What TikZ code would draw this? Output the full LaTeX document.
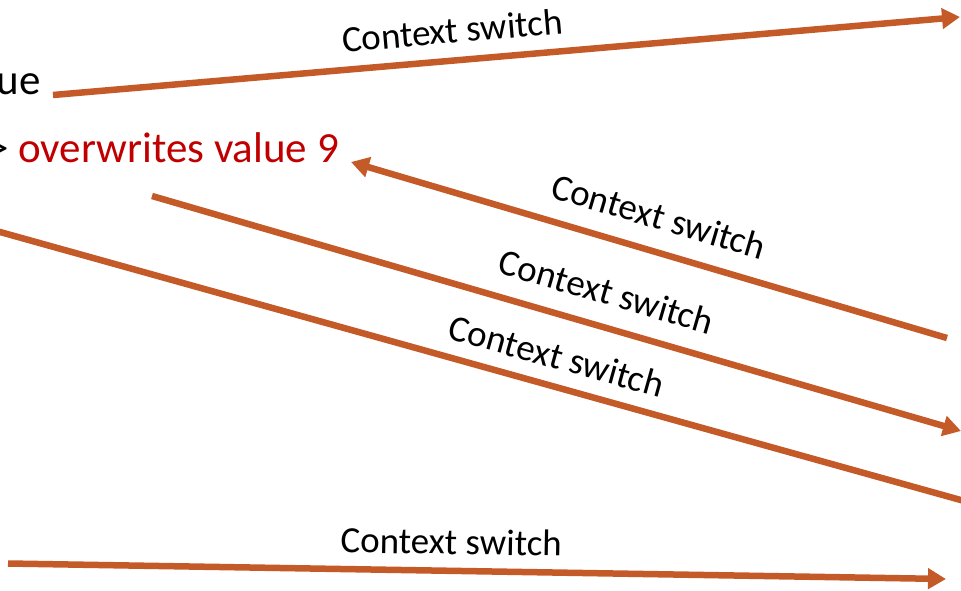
\documentclass[tikz,border=0pt]{standalone}
\usepackage{fontspec}
\setmainfont{Carlito}
\usetikzlibrary{arrows.meta}
\definecolor{switchline}{RGB}{195,90,40}
\definecolor{alertred}{RGB}{192,0,0}
\begin{document}
\begin{tikzpicture}[x=1pt,y=-1pt,
  ctx/.style={line width=6.5pt, draw=switchline},
  fwd/.style={-{Triangle[length=18pt,width=20pt]}},
  back/.style={{Triangle[length=18pt,width=20pt]}-},
  lbl/.style={sloped, above=#1, inner sep=0pt, text=black,
    font=\fontsize{37}{40}\selectfont},
  lbl/.default=15pt,
  side/.style={inner sep=0pt, font=\fontsize{43}{48}\selectfont}]
\useasboundingbox (0,0) rectangle (961,591);

% text at the left edge
\node[side, anchor=base east] (val) at (41,95) {ue};
\node[side, anchor=base east, text=alertred] (ovr) at (339,162.5)
  {{\color{black}>} overwrites value 9};

% end points of the switch arrows
\coordinate (s1) at (53,95);
\coordinate (t1) at (960,17);
\coordinate (t2) at (351,162);
\coordinate (e2) at (947,338);
\coordinate (s3) at (152,196);
\coordinate (t3) at (961,431);
\coordinate (s4) at (-10,229.2);
\coordinate (e4) at (975,504);
\coordinate (s5) at (8,563.5);
\coordinate (t5) at (946,579);

\draw[ctx, fwd] (s1) -- node[lbl=14pt, pos=0.443] (l1) {Context switch} (t1);
\draw[ctx, back] (t2) -- node[lbl=19pt, pos=0.50] (l2) {Context switch} (e2);
\draw[ctx, fwd] (s3) -- node[lbl=19pt, pos=0.55] (l3) {Context switch} (t3);
\draw[ctx] (s4) -- node[lbl=14pt, pos=0.567] (l4) {Context switch} (e4);
\draw[ctx, fwd] (s5) -- node[lbl=13pt, pos=0.472] (l5) {Context switch} (t5);
\end{tikzpicture}
\end{document}
